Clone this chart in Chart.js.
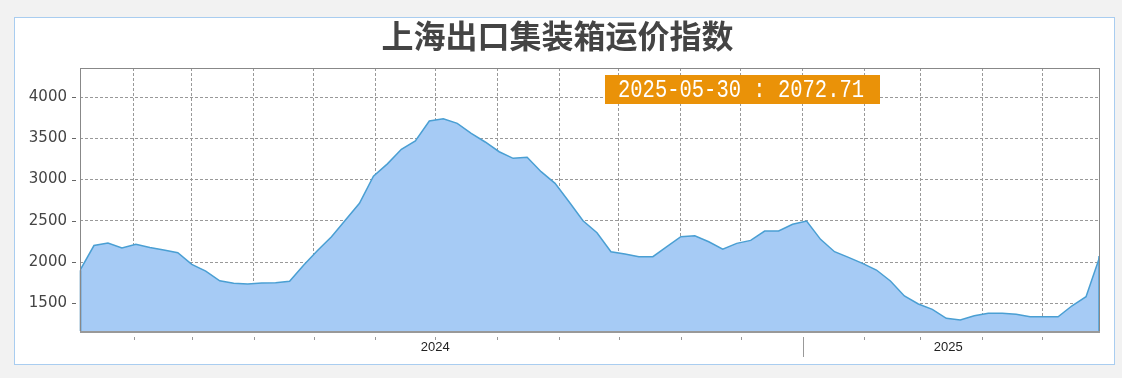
<!DOCTYPE html>
<html>
<head>
<meta charset="utf-8">
<script src="https://cdn.jsdelivr.net/npm/chart.js@4/dist/chart.umd.min.js"></script>
<style>
  html, body { margin: 0; padding: 0; background: #f2f2f2; }
  .box { position: absolute; left: 14px; top: 17px; width: 1099px; height: 346px;
         border: 1px solid #a9cdf0; background: #fff; }
  canvas { display: block; }
</style>
</head>
<body>
<div class="box"><canvas id="scfi" width="1099" height="346"></canvas></div>
<script>
// 上海出口集装箱运价指数 (SCFI), weekly

const title = '上海出口集装箱运价指数';

const dates = [
  '2024-01-05', '2024-01-12', '2024-01-19', '2024-01-26', '2024-02-02', '2024-02-09', '2024-02-16', '2024-02-23',
  '2024-03-01', '2024-03-08', '2024-03-15', '2024-03-22', '2024-03-29', '2024-04-05', '2024-04-12', '2024-04-19',
  '2024-04-26', '2024-05-03', '2024-05-10', '2024-05-17', '2024-05-24', '2024-05-31', '2024-06-07', '2024-06-14',
  '2024-06-21', '2024-06-28', '2024-07-05', '2024-07-12', '2024-07-19', '2024-07-26', '2024-08-02', '2024-08-09',
  '2024-08-16', '2024-08-23', '2024-08-30', '2024-09-06', '2024-09-13', '2024-09-20', '2024-09-27', '2024-10-04',
  '2024-10-11', '2024-10-18', '2024-10-25', '2024-11-01', '2024-11-08', '2024-11-15', '2024-11-22', '2024-11-29',
  '2024-12-06', '2024-12-13', '2024-12-20', '2024-12-27',
  '2025-01-03', '2025-01-10', '2025-01-17', '2025-01-24', '2025-01-31', '2025-02-07', '2025-02-14', '2025-02-21',
  '2025-02-28', '2025-03-07', '2025-03-14', '2025-03-21', '2025-03-28', '2025-04-04', '2025-04-11', '2025-04-18',
  '2025-04-25', '2025-05-02', '2025-05-09', '2025-05-16', '2025-05-23', '2025-05-30'
];

const values = [
  1900, 2200, 2230, 2170, 2214, 2175, 2145, 2113,
  1972, 1890, 1773, 1742, 1733, 1745, 1750, 1766,
  1960, 2140, 2307, 2509, 2712, 3040, 3190, 3366,
  3467, 3709, 3737, 3681, 3560, 3455, 3337, 3257,
  3269, 3095, 2954, 2731, 2500, 2355, 2125, 2097,
  2065, 2065, 2186, 2307, 2319, 2246, 2157, 2226,
  2262, 2376, 2376, 2457,
  2497, 2275, 2125, 2057, 1984, 1903, 1770, 1588,
  1491, 1427, 1318, 1297, 1349, 1378, 1378, 1366,
  1337, 1337, 1337, 1470, 1580, 2072.71
];

const yTicks = [1500, 2000, 2500, 3000, 3500, 4000];
const yMin = 1164;
const yMax = 4352;

const monthTicks = [
  '2024-02-01', '2024-03-01', '2024-04-01', '2024-05-01', '2024-06-01', '2024-07-01',
  '2024-08-01', '2024-09-01', '2024-10-01', '2024-11-01', '2024-12-01', '2025-01-01',
  '2025-02-01', '2025-03-01', '2025-04-01', '2025-05-01'
];
const yearStart = '2025-01-01';
const yearLabelDates = ['2024-07-01', '2025-03-15'];
const yearLabels = ['2024', '2025'];

const ms = d => Date.parse(d);
const points = dates.map((d, i) => ({ x: ms(d), y: values[i] }));
const monthVals = new Set(monthTicks.map(ms));
const labelByVal = {};
yearLabelDates.forEach((d, i) => { labelByVal[ms(d)] = yearLabels[i]; });
const xTickVals = [...new Set([...monthTicks, ...yearLabelDates].map(ms))].sort((a, b) => a - b);

const decor = {
  id: 'decor',
  afterDraw(chart) {
    const { ctx, chartArea: a, scales: { x, y } } = chart;
    ctx.save();

    // edges of the filled area
    ctx.lineWidth = 1.5;
    ctx.strokeStyle = '#2f74a6';
    ctx.beginPath();
    ctx.moveTo(a.left + 0.5, y.getPixelForValue(values[0]));
    ctx.lineTo(a.left + 0.5, a.bottom);
    ctx.stroke();
    ctx.strokeStyle = '#4a9fd3';
    ctx.beginPath();
    ctx.moveTo(a.right - 1, y.getPixelForValue(values[values.length - 1]));
    ctx.lineTo(a.right - 1, a.bottom);
    ctx.stroke();

    // plot frame
    ctx.lineWidth = 1;
    ctx.strokeStyle = '#888';
    ctx.strokeRect(a.left + 0.5, a.top + 0.5, a.right - a.left - 1, a.bottom - a.top);
    ctx.lineWidth = 2;
    ctx.strokeStyle = '#999';
    ctx.beginPath();
    ctx.moveTo(a.left, a.bottom + 1);
    ctx.lineTo(a.right, a.bottom + 1);
    ctx.stroke();

    // y tick marks
    ctx.lineWidth = 1;
    ctx.strokeStyle = '#666';
    yTicks.forEach(v => {
      const py = Math.round(y.getPixelForValue(v)) + 0.5;
      ctx.beginPath();
      ctx.moveTo(a.left - 8, py);
      ctx.lineTo(a.left - 4, py);
      ctx.stroke();
    });

    // x tick marks
    ctx.strokeStyle = '#999';
    monthTicks.forEach(d => {
      const px = Math.round(x.getPixelForValue(ms(d))) + 0.5;
      const len = d === yearStart ? 20 : 3;
      ctx.beginPath();
      ctx.moveTo(px, a.bottom + 6);
      ctx.lineTo(px, a.bottom + 6 + len);
      ctx.stroke();
    });

    // last value badge
    const bx = a.left + 525, by = a.top + 7;
    ctx.fillStyle = '#ea9208';
    ctx.fillRect(bx, by, 275, 29);
    const text = dates[dates.length - 1] + ' : ' + values[values.length - 1].toFixed(2);
    ctx.translate(bx + 13, by + 22);
    ctx.scale(0.82, 1);
    ctx.font = '25px "Liberation Mono"';
    ctx.fillStyle = '#fff';
    ctx.textBaseline = 'alphabetic';
    ctx.fillText(text, 0, 0);

    ctx.restore();
  }
};

new Chart(document.getElementById('scfi'), {
  type: 'line',
  data: {
    datasets: [{
      data: points,
      borderColor: '#4a9fd3',
      borderWidth: 1.5,
      backgroundColor: '#a6cbf5',
      fill: 'start',
      pointRadius: 0,
      tension: 0
    }]
  },
  options: {
    responsive: false,
    animation: false,
    events: [],
    layout: { padding: { left: 0, right: 14, top: 0, bottom: 0 } },
    plugins: {
      legend: { display: false },
      tooltip: { enabled: false },
      title: {
        display: true,
        text: title,
        color: '#444',
        font: { family: "'Noto Sans CJK SC'", size: 32, weight: 'bold', lineHeight: 1 },
        padding: { top: 2, bottom: 16 }
      }
    },
    scales: {
      x: {
        type: 'linear',
        min: ms(dates[0]),
        max: ms(dates[dates.length - 1]),
        afterBuildTicks: s => { s.ticks = xTickVals.map(v => ({ value: v })); },
        afterFit: s => { s.height = 33; },
        grid: {
          drawTicks: false,
          color: c => (c.tick && monthVals.has(c.tick.value)) ? '#999' : 'rgba(0,0,0,0)'
        },
        border: { display: false, dash: [3, 2] },
        ticks: {
          autoSkip: false,
          maxRotation: 0,
          padding: 9,
          color: '#222',
          font: { family: "'Liberation Sans'", size: 13 },
          callback: v => labelByVal[v] || ''
        }
      },
      y: {
        min: yMin,
        max: yMax,
        afterBuildTicks: s => { s.ticks = yTicks.map(v => ({ value: v })); },
        afterFit: s => { s.width = 65; },
        grid: { drawTicks: false, color: '#999' },
        border: { display: false, dash: [3, 2] },
        ticks: {
          padding: 13,
          color: '#444',
          font: { family: "'DejaVu Sans'", size: 15 },
          callback: v => String(v)
        }
      }
    }
  },
  plugins: [decor]
});
</script>
</body>
</html>
